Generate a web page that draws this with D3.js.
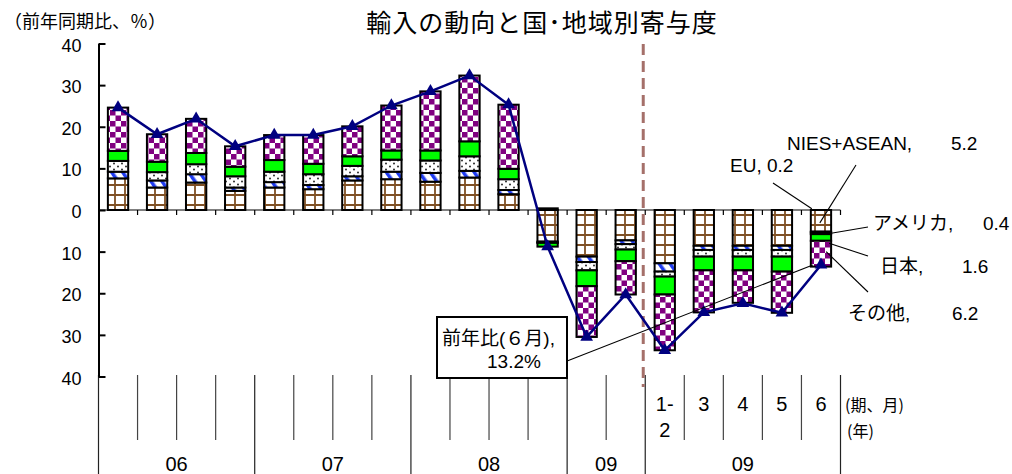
<!DOCTYPE html>
<html>
<head>
<meta charset="UTF-8">
<style>
body { margin: 0; background: #fff; }
svg { display: block; }
text { font-family: "Liberation Sans", "Noto Sans CJK JP", sans-serif; fill: #000; }
</style>
</head>
<body>
<svg></svg>
<script src="https://d3js.org/d3.v7.min.js"></script>
<script>

let width = 1012, height = 474;

// 06-08 quarterly, 09 Q1-Q2, then 09 monthly
let periods = ["06Q1","06Q2","06Q3","06Q4","07Q1","07Q2","07Q3","07Q4",
               "08Q1","08Q2","08Q3","08Q4","09Q1","09Q2",
               "09M1-2","09M3","09M4","09M5","09M6"];
let niesAsean = [7.6, 5.4, 6.6, 4.6, 5.4, 5.0, 7.1, 7.4, 6.8, 7.8, 3.8, -7.6, -11.2, -7.3, -12.8, -8.6, -8.6, -8.6, -5.2];
let eu        = [1.6, 1.7, 2.0, 0.8, 1.3, 1.0, 1.0, 1.8, 2.1, 1.6, 1.0, -0.2, -1.3, -0.9, -2.0, -1.0, -1.0, -1.0, -0.2];
let america   = [2.6, 2.0, 2.4, 2.7, 2.5, 2.6, 2.5, 2.9, 3.0, 3.5, 2.6, -0.1, -2.0, -1.3, -1.2, -1.6, -1.6, -1.6, -0.4];
let japan     = [2.4, 2.5, 2.7, 2.3, 2.8, 2.5, 2.3, 2.2, 2.4, 3.6, 2.5, -0.9, -3.8, -2.8, -4.3, -3.3, -3.3, -3.6, -1.6];
let others    = [10.4, 6.6, 8.2, 4.9, 6.0, 6.9, 7.2, 10.8, 14.2, 15.8, 15.4, 0.4, -12.2, -8.0, -13.4, -10.1, -7.8, -9.9, -6.2];
let total     = [24.6, 18.2, 21.9, 15.3, 18.0, 18.0, 20.1, 25.1, 28.5, 32.3, 25.3, -8.8, -30.5, -20.3, -33.7, -24.6, -22.4, -24.7, -13.2];

let seriesKeys = ["NIES+ASEAN", "EU", "アメリカ", "日本", "その他"];
let yearGroups = [["06", 0, 4], ["07", 4, 8], ["08", 8, 12], ["09", 12, 14], ["09", 14, 19]];
let monthLabels = [["1-", "2"], ["3"], ["4"], ["5"], ["6"]];
let yTicks = [-40, -30, -20, -10, 0, 10, 20, 30, 40];

let rows = periods.map((p, i) => ({
  period: p,
  "NIES+ASEAN": niesAsean[i], "EU": eu[i], "アメリカ": america[i], "日本": japan[i], "その他": others[i],
  total: total[i]
}));

let svg = d3.select("svg").attr("width", width).attr("height", height);

let x = d3.scaleBand().domain(periods).range([98.5, 840.5]).paddingInner(0.48).paddingOuter(0.24);
let y = d3.scaleLinear().domain([-40, 40]).range([376.5, 43.5]);
let bx = i => x.range()[0] + i * x.step();   // category boundaries

// patterns
let defs = svg.append("defs");
let pGrid = defs.append("pattern").attr("id", "pGrid").attr("patternUnits", "userSpaceOnUse")
  .attr("width", 10).attr("height", 10);
pGrid.append("rect").attr("width", 10).attr("height", 10).attr("fill", "#fff");
pGrid.append("path").attr("d", "M0,5H10M5,0V10").attr("stroke", "#7f5024").attr("stroke-width", 1.8);

let pStripe = defs.append("pattern").attr("id", "pStripe").attr("patternUnits", "userSpaceOnUse")
  .attr("width", 9).attr("height", 9).attr("patternTransform", "rotate(-35)");
pStripe.append("rect").attr("width", 9).attr("height", 9).attr("fill", "#fff");
pStripe.append("rect").attr("width", 3.5).attr("height", 9).attr("fill", "#1f3cf0");

let pDots = defs.append("pattern").attr("id", "pDots").attr("patternUnits", "userSpaceOnUse")
  .attr("width", 8).attr("height", 6);
pDots.append("rect").attr("width", 8).attr("height", 6).attr("fill", "#fff");
pDots.append("circle").attr("cx", 2).attr("cy", 1.5).attr("r", 0.95).attr("fill", "#222");
pDots.append("circle").attr("cx", 6).attr("cy", 4.5).attr("r", 0.95).attr("fill", "#222");

let pCheck = defs.append("pattern").attr("id", "pCheck").attr("patternUnits", "userSpaceOnUse")
  .attr("width", 11).attr("height", 11);
pCheck.append("rect").attr("width", 11).attr("height", 11).attr("fill", "#fff");
pCheck.append("path").attr("d", "M0,0h5.5v5.5h-5.5zM5.5,5.5h5.5v5.5h-5.5z").attr("fill", "#800080");

let fills = {"NIES+ASEAN": "url(#pGrid)", "EU": "url(#pStripe)", "アメリカ": "url(#pDots)",
             "日本": "#00ff00", "その他": "url(#pCheck)"};

// title and unit
svg.append("text").attr("x", 542).attr("y", 32).attr("text-anchor", "middle")
  .style("font-family", "'Noto Sans CJK JP'").style("font-size", "25px").style("letter-spacing", "1px")
  .text("輸入の動向と国･地域別寄与度");
svg.append("text").attr("x", 4).attr("y", 28)
  .style("font-family", "'Noto Sans CJK JP'").style("font-size", "18px")
  .text("（前年同期比、％）");

// bottom table
let table = svg.append("g");
d3.range(0, 20).forEach(i => {
  let major = [0, 4, 8, 12, 14, 19].includes(i);
  table.append("line").attr("x1", bx(i)).attr("x2", bx(i))
    .attr("y1", 375).attr("y2", major ? 474 : 440)
    .attr("stroke", major ? "#222" : "#444").attr("stroke-width", 1.2);
});
table.selectAll("text.year").data(yearGroups).enter().append("text")
  .attr("x", d => (bx(d[1]) + bx(d[2])) / 2).attr("y", 471)
  .attr("text-anchor", "middle").style("font-size", "20px").text(d => d[0]);
monthLabels.forEach((lines, j) => {
  let cx = x(periods[14 + j]) + x.bandwidth() / 2;
  lines.forEach((t, k) => {
    table.append("text").attr("x", cx).attr("y", 411 + k * 26)
      .attr("text-anchor", "middle").style("font-size", "20px").text(t);
  });
});
table.append("text").attr("x", 845).attr("y", 411)
  .style("font-family", "'Noto Sans CJK JP'").style("font-size", "16px").text("(期、月)");
table.append("text").attr("x", 847).attr("y", 437)
  .style("font-family", "'Noto Sans CJK JP'").style("font-size", "16px").text("(年)");

// y axis
let yAxis = d3.axisLeft(y).tickValues(yTicks).tickFormat(d => Math.abs(d))
  .tickSizeInner(-7).tickSizeOuter(0).tickPadding(17);
let ga = svg.append("g").attr("transform", "translate(" + x.range()[0] + ",0)").call(yAxis);
ga.select(".domain").attr("stroke-width", 2);
ga.selectAll(".tick line").attr("stroke-width", 2);
ga.selectAll(".tick text").attr("dy", "0.42em").style("font-size", "18px").style("font-family", "'Liberation Sans'");

// stacked bars
let stacked = d3.stack().keys(seriesKeys).offset(d3.stackOffsetDiverging)(rows);
svg.append("g").selectAll("g").data(stacked).enter().append("g")
  .attr("fill", d => fills[d.key])
  .selectAll("rect").data(d => d).enter().append("rect")
  .attr("x", d => x(d.data.period))
  .attr("width", x.bandwidth())
  .attr("y", d => y(Math.max(d[0], d[1])))
  .attr("height", d => Math.abs(y(d[0]) - y(d[1])))
  .attr("stroke", "#000").attr("stroke-width", 2);

// zero line with ticks
svg.append("line").attr("x1", x.range()[0]).attr("x2", x.range()[1])
  .attr("y1", y(0)).attr("y2", y(0)).attr("stroke", "#000").attr("stroke-width", 1.2);
svg.append("g").selectAll("line").data(d3.range(1, 20)).enter().append("line")
  .attr("x1", bx).attr("x2", bx).attr("y1", y(0)).attr("y2", y(0) + 5)
  .attr("stroke", "#000").attr("stroke-width", 1.2);

// dashed separator
svg.append("line").attr("x1", bx(14) - 2).attr("x2", bx(14) - 2).attr("y1", 44).attr("y2", 387)
  .attr("stroke", "#a5706a").attr("stroke-width", 3).attr("stroke-dasharray", "11,6");

// total line
let cx = d => x(d.period) + x.bandwidth() / 2;
svg.append("path").datum(rows)
  .attr("fill", "none").attr("stroke", "#000080").attr("stroke-width", 2.5)
  .attr("d", d3.line().x(cx).y(d => y(d.total)));
svg.append("g").selectAll("path").data(rows).enter().append("path")
  .attr("transform", d => "translate(" + cx(d) + "," + y(d.total) + ")")
  .attr("d", d3.symbol().type(d3.symbolTriangle).size(70))
  .attr("fill", "#000080");

// annotations for the last bar
let last = rows[rows.length - 1];
let lx = x(last.period), lw = x.bandwidth();
let ann = svg.append("g").attr("stroke", "#000").attr("stroke-width", 1.1);
let notes = [
  {x1: 856, y1: 165, x2: lx + 9,  y2: y(-3.1)},
  {x1: 773, y1: 183, x2: lx + 1,  y2: y(0.3)},
  {x1: 868, y1: 227, x2: lx + lw, y2: y(-5.6)},
  {x1: 868, y1: 256, x2: lx + lw - 2, y2: y(-8.0)},
  {x1: 868, y1: 292, x2: lx + lw - 5, y2: y(-10.0)},
  {x1: 562, y1: 363, x2: lx + 2,  y2: y(total[total.length - 1])}
];
ann.selectAll("line").data(notes).enter().append("line")
  .attr("x1", d => d.x1).attr("y1", d => d.y1).attr("x2", d => d.x2).attr("y2", d => d.y2);

let labels = [
  ["NIES+ASEAN,", 787, 150], [niesAsean[18], 951, 150],
  ["EU, 0.2", 730, 172],
  ["アメリカ,", 873, 230], [america[18], 983, 230],
  ["日本,", 880, 273], [japan[18], 962, 273],
  ["その他,", 848, 320], [others[18], 952, 320]
];
svg.append("g").selectAll("text").data(labels).enter().append("text")
  .attr("x", d => d[1]).attr("y", d => d[2]).style("font-size", "19px")
  .text(d => typeof d[0] === "number" ? Math.abs(d[0]).toFixed(1) : d[0]);

// callout box
svg.append("rect").attr("x", 437).attr("y", 317).attr("width", 130).attr("height", 61)
  .attr("fill", "#fff").attr("stroke", "#000").attr("stroke-width", 2);
svg.append("text").attr("x", 442).attr("y", 345).style("font-size", "19px").text("前年比(６月),");
svg.append("text").attr("x", 487).attr("y", 368).style("font-size", "19px")
  .text(Math.abs(total[total.length - 1]).toFixed(1) + "%");

</script>
</body>
</html>
